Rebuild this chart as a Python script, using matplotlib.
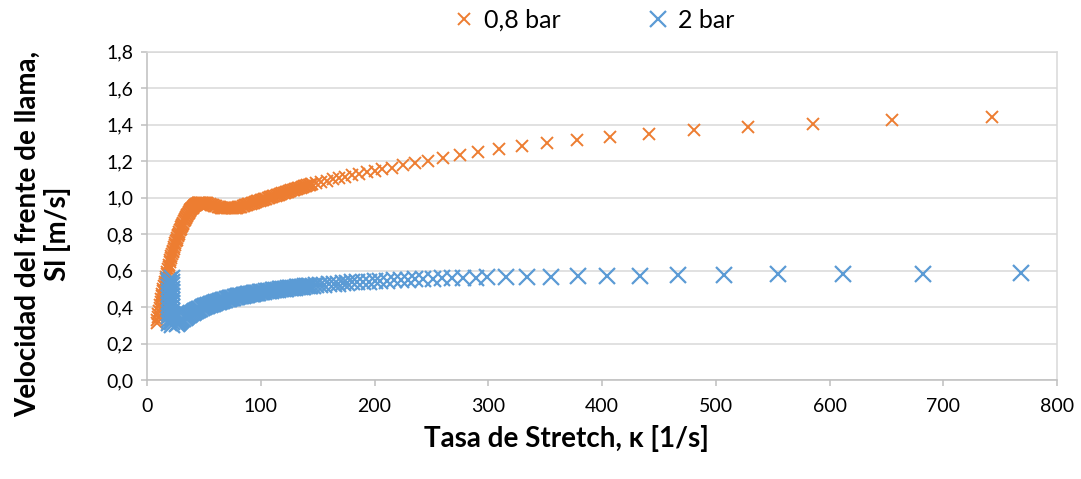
import matplotlib
matplotlib.use("Agg")
import matplotlib.pyplot as plt
from matplotlib.ticker import FuncFormatter, MultipleLocator

plt.rcParams['font.family'] = ['Lato', 'DejaVu Sans']

# Stretch rate (1/s) and flame-front speed (m/s) at 0.8 bar
stretch_08bar = [
    8.5, 9, 9.5, 10, 10.5, 11, 11.5, 12, 12.5, 13, 13.5, 14, 14.5, 15, 15.5,
    16, 16.5, 17, 17.5, 18, 18.5, 19, 19.5, 20, 20.5, 21, 21.5, 22, 22.5, 23,
    23.5, 24, 24.5, 25, 25.5, 26, 26.5, 27, 27.5, 28, 28.5, 29, 29.5, 30,
    30.5, 31, 31.5, 32, 32.5, 33, 33.5, 34, 34.5, 35, 35.5, 36, 36.5, 37,
    37.5, 38, 38.5, 39, 39.5, 40, 40.5, 41, 41.5, 42, 42.5, 43, 43.5, 44,
    44.5, 45, 45.5, 46, 46.5, 47, 47.5, 48, 48.5, 49,
    50, 51, 52, 53, 54, 55, 56, 57, 58, 59, 60, 61, 62, 63, 64, 65, 66, 67,
    68, 69, 70, 71, 72, 73, 74, 75, 76, 77, 78, 79, 80, 81, 82, 83, 84, 85,
    86, 87, 88, 89, 90, 91, 92, 93, 94, 95, 96, 97, 98, 99, 100, 101, 102,
    103, 104, 105, 106, 107, 108, 109, 110, 111, 112, 113, 114, 115, 116,
    117, 118, 119, 120, 121, 122, 123, 124, 125, 126, 127, 128, 129, 130,
    131, 132, 133, 134, 135, 136, 137, 138, 139, 140, 141, 142, 143, 144,
    145,
    148.6, 153, 158, 163.3, 168.5, 174, 180.2, 186.4, 193.2, 200.4, 207,
    215.7, 225.3, 235.6, 247.3, 260.5, 275.2, 291, 309.2, 329.4, 351.9, 378,
    407.3, 441.6, 480.9, 528.6, 585.8, 655.2, 742.6,
]
speed_08bar = [
    0.310, 0.327, 0.343, 0.360, 0.377, 0.393, 0.410, 0.427, 0.443, 0.460,
    0.473, 0.487, 0.500, 0.513, 0.527, 0.540, 0.553, 0.567, 0.580, 0.593,
    0.607, 0.620, 0.633, 0.647, 0.660, 0.670, 0.680, 0.690, 0.700, 0.710,
    0.720, 0.730, 0.740, 0.750, 0.760, 0.770, 0.780, 0.787, 0.793, 0.800,
    0.810, 0.820, 0.830, 0.837, 0.843, 0.850, 0.857, 0.863, 0.870, 0.877,
    0.883, 0.890, 0.895, 0.900, 0.905, 0.910, 0.915, 0.920, 0.925, 0.930,
    0.935, 0.938, 0.942, 0.945, 0.948, 0.952, 0.955, 0.957, 0.960, 0.962,
    0.964, 0.966, 0.968, 0.969, 0.970, 0.971, 0.971, 0.972, 0.972, 0.972,
    0.972, 0.972,
    0.972, 0.971, 0.970, 0.968, 0.966, 0.964, 0.962, 0.960, 0.958, 0.956,
    0.954, 0.952, 0.950, 0.948, 0.947, 0.945, 0.944, 0.943, 0.942, 0.942,
    0.941, 0.941, 0.941, 0.941, 0.941, 0.942, 0.942, 0.943, 0.944, 0.945,
    0.947, 0.948, 0.950, 0.951, 0.953, 0.955, 0.957, 0.959, 0.961, 0.963,
    0.965, 0.967, 0.969, 0.971, 0.973, 0.975, 0.977, 0.979, 0.981, 0.983,
    0.985, 0.987, 0.989, 0.991, 0.993, 0.995, 0.997, 0.999, 1.001, 1.003,
    1.005, 1.007, 1.009, 1.011, 1.013, 1.015, 1.017, 1.019, 1.021, 1.023,
    1.025, 1.027, 1.029, 1.031, 1.033, 1.035, 1.037, 1.039, 1.041, 1.043,
    1.045, 1.047, 1.049, 1.051, 1.053, 1.055, 1.057, 1.059, 1.061, 1.063,
    1.065, 1.067, 1.068, 1.070, 1.072, 1.074,
    1.078, 1.085, 1.093, 1.100, 1.107, 1.115, 1.123, 1.131, 1.139, 1.147,
    1.155, 1.165, 1.178, 1.190, 1.203, 1.219, 1.235, 1.250, 1.265, 1.281,
    1.298, 1.314, 1.331, 1.350, 1.369, 1.385, 1.405, 1.425, 1.443,
]

# Stretch rate (1/s) and flame-front speed (m/s) at 2 bar
stretch_2bar = [
    22, 19.5, 22, 19.5, 22, 19.5, 22, 19.5, 22, 19.5, 22, 19.5, 22, 19.5,
    22, 19.5, 22, 19.5, 22, 19.5, 22, 19.5, 22, 19.5, 22, 19.5, 22,
    26, 27, 28, 29, 30, 31, 32, 33, 34, 35, 36, 37, 38, 39, 40, 41, 42, 43,
    44, 45, 46, 47, 48, 49, 50, 51, 52, 53, 54, 55, 56, 57, 58, 59, 60, 61,
    62, 63, 64, 65, 66, 67, 68, 69, 70, 71, 72, 73, 74, 75, 76, 77, 78, 79,
    80, 81, 82, 83, 84, 85, 86, 87, 88, 89, 90, 91, 92, 93, 94, 95, 96, 97,
    98, 99, 100, 101.5, 103, 104.5, 106, 107.5, 109, 110.5, 112, 113.5, 115,
    116.5, 118, 119.5, 121, 122.5, 124, 125.5, 127, 128.5, 130, 131.5, 133,
    134.5, 136, 137.5, 139, 140.5, 142, 143.5, 145.5,
    149, 152.5, 156, 160, 164, 168, 172, 176, 180.5, 185, 190, 195, 200,
    205, 211, 217, 223, 229.5, 236, 243, 251, 259, 268, 278, 289, 299.2,
    315.6, 333.8, 354.9, 378.6, 404.1, 433.4, 467.1, 507.3, 555, 612.1,
    681.9, 768.4,
]
speed_2bar = [
    0.560, 0.550, 0.540, 0.530, 0.520, 0.510, 0.500, 0.490, 0.480, 0.470,
    0.460, 0.450, 0.440, 0.430, 0.420, 0.410, 0.400, 0.390, 0.380, 0.370,
    0.360, 0.350, 0.340, 0.330, 0.320, 0.310, 0.300,
    0.305, 0.311, 0.317, 0.322, 0.327, 0.332, 0.337, 0.342, 0.346, 0.350,
    0.354, 0.358, 0.362, 0.366, 0.369, 0.373, 0.376, 0.380, 0.383, 0.386,
    0.389, 0.392, 0.395, 0.398, 0.400, 0.403, 0.405, 0.408, 0.410, 0.413,
    0.415, 0.417, 0.419, 0.421, 0.423, 0.425, 0.427, 0.429, 0.431, 0.433,
    0.435, 0.437, 0.439, 0.440, 0.442, 0.444, 0.445, 0.447, 0.448, 0.450,
    0.452, 0.453, 0.455, 0.456, 0.458, 0.459, 0.460, 0.462, 0.463, 0.464,
    0.465, 0.467, 0.468, 0.469, 0.470, 0.471, 0.472, 0.474, 0.475, 0.476,
    0.477, 0.478, 0.479, 0.480, 0.481, 0.483, 0.484, 0.486, 0.487, 0.489,
    0.490, 0.492, 0.493, 0.494, 0.495, 0.497, 0.498, 0.499, 0.500, 0.501,
    0.502, 0.504, 0.505, 0.506, 0.507, 0.508, 0.509, 0.510, 0.511, 0.512,
    0.513, 0.514, 0.515, 0.516, 0.517,
    0.519, 0.521, 0.523, 0.525, 0.527, 0.529, 0.531, 0.533, 0.535, 0.537,
    0.539, 0.540, 0.542, 0.543, 0.545, 0.547, 0.549, 0.551, 0.552, 0.554,
    0.556, 0.557, 0.559, 0.560, 0.561, 0.562, 0.564, 0.565, 0.567, 0.568,
    0.570, 0.572, 0.574, 0.577, 0.579, 0.581, 0.583, 0.585,
]

series_labels = ["0,8 bar", "2 bar"]
x_label = "Tasa de Stretch, κ [1/s]"
y_label = "Velocidad del frente de llama,\nSl [m/s]"

ORANGE = "#ED7D31"
BLUE = "#5B9BD5"
GRID = "#D9D9D9"
AXIS = "#BFBFBF"

fig = plt.figure(figsize=(10.81, 4.79), dpi=100)
ax = fig.add_axes([147 / 1081, 1 - 380 / 479, (1057 - 147) / 1081, (380 - 51.7) / 479])

ax.plot(stretch_08bar, speed_08bar, linestyle="none", marker="x", markersize=8,
        markeredgewidth=1.4, color=ORANGE, label=series_labels[0], zorder=3)
ax.plot(stretch_2bar, speed_2bar, linestyle="none", marker="x", markersize=11,
        markeredgewidth=1.6, color=BLUE, label=series_labels[1], zorder=4)

ax.set_xlim(0, 800)
ax.set_ylim(0, 1.8)
ax.xaxis.set_major_locator(MultipleLocator(100))
ax.yaxis.set_major_locator(MultipleLocator(0.2))
ax.yaxis.set_major_formatter(FuncFormatter(lambda v, _: f"{v:.1f}".replace(".", ",")))

ax.grid(axis="y", color=GRID, linewidth=1.1, zorder=0)
ax.set_axisbelow(True)
for side in ("top", "right"):
    ax.spines[side].set_color(GRID)
    ax.spines[side].set_linewidth(1.1)
for side in ("left", "bottom"):
    ax.spines[side].set_color(AXIS)
    ax.spines[side].set_linewidth(1.1)

ax.tick_params(axis="both", which="major", labelsize=14, colors=AXIS,
               labelcolor="black", length=4, width=1.1, direction="out")
ax.tick_params(axis="x", pad=9)
ax.tick_params(axis="y", pad=6)

fig.text(566 / 1081, 1 - 438 / 479, x_label, ha="center", va="center",
         fontsize=20, fontweight="bold")
fig.text(43 / 1081, 1 - 234 / 479, y_label, ha="center", va="center",
         rotation=90, fontsize=20, fontweight="bold", multialignment="center",
         linespacing=1.1)

fig.legend(loc="center", bbox_to_anchor=(594 / 1081, 1 - 20 / 479), ncol=2,
           frameon=False, fontsize=18, handlelength=0.8, handletextpad=0.4,
           columnspacing=3.5, borderaxespad=0)

fig.savefig("out.png", dpi=100)
